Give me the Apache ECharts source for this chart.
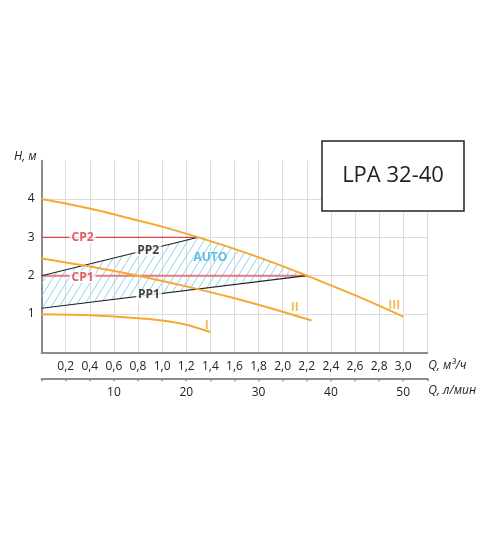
<!doctype html>
<html lang="ru">
<head>
    <meta charset="UTF-8">
    <title>LPA 32-40</title>
    <script src="https://cdn.jsdelivr.net/npm/echarts@6/dist/echarts.min.js"></script>
    <style>
        html, body { margin: 0; padding: 0; background: #fff; }
        #chart { width: 500px; height: 538px; }
    </style>
</head>
<body>
<div id="chart"></div>
<script>
    // ---- данные (Q, м3/ч ; H, м) ----
    var curveI   = [[0, 0.99], [0.4, 0.965], [0.8, 0.89], [1.0, 0.83], [1.2, 0.72], [1.4, 0.53]];
    var curveII  = [[0, 2.45], [0.4, 2.24], [0.8, 2.0], [1.2, 1.72], [1.6, 1.41], [2.0, 1.06], [2.24, 0.83]];
    var curveIII = [[0, 4.0], [0.4, 3.75], [0.8, 3.44], [1.0, 3.28], [1.3, 3.0], [1.6, 2.70], [2.0, 2.25], [2.2, 2.0], [2.6, 1.49], [3.0, 0.93]];
    var cp1 = [[0, 2.0], [2.2, 2.0]];
    var cp2 = [[0, 3.0], [1.3, 3.0]];
    var pp1 = [[0, 1.15], [2.2, 2.0]];
    var pp2 = [[0, 2.0], [1.3, 3.0]];
    var autoArea = [[0, 1.15], [2.2, 2.0], [2.0, 2.25], [1.6, 2.70], [1.3, 3.0], [0, 2.0]];

    var cpLabels    = [[0.34, 3.0, 'CP2'], [0.34, 1.96, 'CP1']];
    var ppLabels    = [[0.885, 2.66, 'PP2'], [0.89, 1.495, 'PP1']];
    var curveLabels = [[1.37, 0.69, 'I'], [2.1, 1.16, 'II'], [2.925, 1.22, 'III']];
    var autoLabel   = [[1.4, 2.48, 'AUTO']];

    var lpmTicks = [10, 20, 30, 40, 50];   // л/мин

    var FONT = '"Open Sans", "Noto Sans", sans-serif';
    var ORANGE = '#f6a833';
    var AXIS = '#8c8c8c';
    var TEXT = '#222';

    // штриховка AUTO
    var hatch = document.createElement('canvas');
    hatch.width = 8;
    hatch.height = 13;
    var hc = hatch.getContext('2d');
    hc.strokeStyle = '#8fd1f2';
    hc.lineWidth = 1;
    [-8, 0, 8].forEach(function (dx) {
        hc.beginPath();
        hc.moveTo(dx, 13);
        hc.lineTo(dx + 8, 0);
        hc.stroke();
    });

    function labelSeries(data, style) {
        return {
            type: 'scatter',
            symbolSize: 0,
            silent: true,
            z: 10,
            data: data,
            label: Object.assign({
                show: true,
                position: 'inside',
                formatter: function (p) { return p.data[2]; },
                fontFamily: FONT
            }, style)
        };
    }

    function line(data, color, width, smooth) {
        return {
            type: 'line',
            data: data,
            symbol: 'none',
            smooth: smooth || false,
            silent: true,
            z: 3,
            lineStyle: { color: color, width: width }
        };
    }

    var nameStyle = { fontFamily: FONT, fontSize: 12, fontStyle: 'italic', color: TEXT };

    var chart = echarts.init(document.getElementById('chart'));
    chart.setOption({
        animation: false,
        grid: { left: 41.6, top: 160.7, right: 72.7, bottom: 185.7 },
        xAxis: [{
            type: 'value', min: 0, max: 3.2, interval: 0.2,
            name: 'Q, м³/ч', nameLocation: 'end', nameGap: 1,
            nameTextStyle: Object.assign({ align: 'left', verticalAlign: 'top', padding: [7, 0, 0, 0] }, nameStyle),
            axisLine: { lineStyle: { color: AXIS, width: 2 } },
            axisTick: { show: false },
            axisLabel: {
                fontFamily: FONT, fontSize: 12, color: TEXT, margin: 8,
                formatter: function (v) { return (v > 0.01 && v < 3.1) ? v.toFixed(1).replace('.', ',') : ''; }
            },
            splitLine: { show: true, lineStyle: { color: '#dcdcdc', width: 1 } }
        }, {
            type: 'value', min: 0, max: 3.2, interval: 0.2, position: 'bottom', offset: 26,
            name: 'Q, л/мин', nameLocation: 'end', nameGap: 1,
            nameTextStyle: Object.assign({ align: 'left', verticalAlign: 'top', padding: [6, 0, 0, 0] }, nameStyle),
            axisLine: { lineStyle: { color: AXIS, width: 2 } },
            axisTick: { show: true, inside: false, length: 3, lineStyle: { color: AXIS, width: 1.5 } },
            axisLabel: {
                fontFamily: FONT, fontSize: 12, color: TEXT, margin: 8,
                formatter: function (v) {
                    var l = Math.round(v * 1000 / 60);
                    return (Math.abs(v * 1000 / 60 - l) < 1e-6 && lpmTicks.indexOf(l) >= 0) ? String(l) : '';
                }
            },
            splitLine: { show: false }
        }],
        yAxis: {
            type: 'value', min: 0, max: 5, interval: 1,
            name: 'H, м', nameLocation: 'end', nameGap: 4,
            nameTextStyle: Object.assign({ align: 'right', verticalAlign: 'middle', padding: [0, 5, 0, 0] }, nameStyle),
            axisLine: { show: true, lineStyle: { color: AXIS, width: 2 } },
            axisTick: { show: false },
            axisLabel: {
                fontFamily: FONT, fontSize: 12, color: TEXT, margin: 7,
                formatter: function (v) { return (v > 0 && v < 5) ? String(v) : ''; }
            },
            splitLine: { show: true, lineStyle: { color: ['transparent', '#dcdcdc', '#dcdcdc', '#dcdcdc', '#dcdcdc', 'transparent'], width: 1 } }
        },
        graphic: [{
            type: 'rect', x: 322, y: 141, z: 20,
            shape: { width: 142, height: 70 },
            style: { fill: '#fff', stroke: '#222', lineWidth: 1.5 }
        }, {
            type: 'text', x: 393, y: 176, z: 21,
            style: { text: 'LPA 32-40', fill: '#222', font: '22px ' + FONT, textAlign: 'center', textVerticalAlign: 'middle' }
        }],
        series: [
            {
                type: 'custom',
                silent: true,
                z: 1,
                data: [[0, 0]],
                renderItem: function (params, api) {
                    return {
                        type: 'polygon',
                        shape: { points: autoArea.map(function (p) { return api.coord(p); }) },
                        style: { fill: { image: hatch, repeat: 'repeat' }, stroke: null }
                    };
                }
            },
            line(cp1, '#e5797d', 2),
            line(cp2, '#d8434a', 1.2),
            line(pp1, '#222', 1.1),
            line(pp2, '#222', 1.1),
            line(curveI, ORANGE, 2, 0.3),
            line(curveII, ORANGE, 2, 0.3),
            line(curveIII, ORANGE, 2, 0.3),
            labelSeries(cpLabels, { color: '#d8343c', fontWeight: 'bold', fontSize: 12, backgroundColor: '#fff', padding: [0, 2] }),
            labelSeries(ppLabels, { color: '#111', fontWeight: 'bold', fontSize: 12, backgroundColor: '#fff', padding: [0, 2] }),
            labelSeries(curveLabels, { color: ORANGE, fontWeight: 'bold', fontSize: 12 }),
            labelSeries(autoLabel, { color: '#3aaee3', fontWeight: 'bold', fontSize: 12 })
        ]
    });
</script>
</body>
</html>
